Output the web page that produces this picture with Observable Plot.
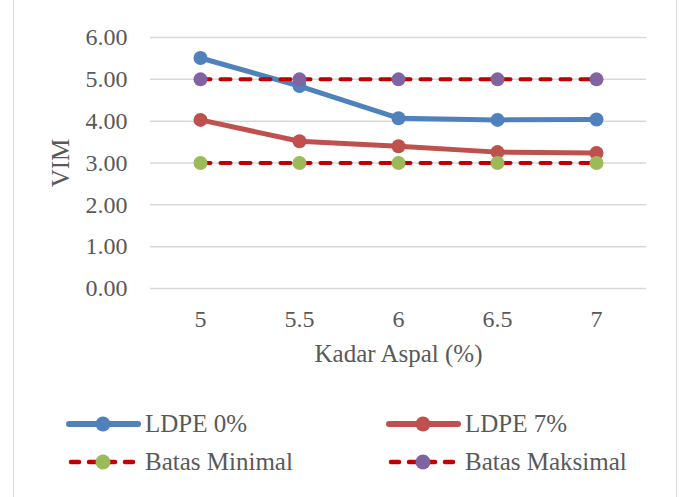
<!DOCTYPE html>
<html><head><meta charset="utf-8">
<script src="https://cdn.jsdelivr.net/npm/d3@7"></script>
<script src="https://cdn.jsdelivr.net/npm/@observablehq/plot@0.6"></script>
<style>
body{margin:0;background:#fff;}
#wrap{position:relative;width:680px;height:497px;overflow:hidden;font-family:"Liberation Serif",serif;color:#595959;background:#fff;}
#frame{position:absolute;left:13px;top:-2px;width:664px;height:520px;border:1px solid #d9d9d9;box-sizing:border-box;}
#chart{position:absolute;left:0;top:0;}
.leg{position:absolute;height:30px;display:flex;align-items:center;font-size:25px;line-height:30px;white-space:nowrap;}
.leg svg{display:block;margin-right:3px;}
</style></head><body>
<div id="wrap"><div id="frame"></div><div id="chart"></div><div id="legend"></div></div>
<script>
const categories = ["5", "5.5", "6", "6.5", "7"];
const yTicks = [0, 1, 2, 3, 4, 5, 6];
const ldpe0 = [5.51, 4.84, 4.07, 4.03, 4.04];
const ldpe7 = [4.03, 3.52, 3.40, 3.26, 3.24];
const batasMinimal = [3.00, 3.00, 3.00, 3.00, 3.00];
const batasMaksimal = [5.00, 5.00, 5.00, 5.00, 5.00];
const seriesNames = ["LDPE 0%", "LDPE 7%", "Batas Minimal", "Batas Maksimal"];

const styles = [
  {line: "#4F81BD", dot: "#4F81BD", dash: null, w: 5},
  {line: "#C0504D", dot: "#C0504D", dash: null, w: 5},
  {line: "#C00000", dot: "#9BBB59", dash: "10,10", w: 4},
  {line: "#C00000", dot: "#8064A2", dash: "10,10", w: 4}
];
const allValues = [ldpe0, ldpe7, batasMinimal, batasMaksimal];

const marks = [
  Plot.gridY(yTicks, {stroke: "#d9d9d9", strokeOpacity: 1, strokeWidth: 1.5}),
  Plot.axisY(yTicks, {tickSize: 0, tickPadding: 23, tickFormat: d => d.toFixed(2), label: null, fontSize: 24}),
  Plot.axisX({tickSize: 0, tickPadding: 21, label: null, fontSize: 24})
];
allValues.forEach((vals, si) => {
  const data = categories.map((c, i) => ({x: c, y: vals[i]}));
  const s = styles[si];
  marks.push(Plot.line(data, {x: "x", y: "y", stroke: s.line, strokeWidth: s.w,
    strokeDasharray: s.dash, strokeLinecap: "round", strokeLinejoin: "round"}));
  marks.push(Plot.dot(data, {x: "x", y: "y", r: 7, fill: s.dot, stroke: "none"}));
});
marks.push(Plot.text(["Kadar Aspal (%)"], {frameAnchor: "bottom", dy: 65, lineAnchor: "middle", textAnchor: "middle", fontSize: 25, fill: "#595959"}));
marks.push(Plot.text(["VIM"], {frameAnchor: "left", dx: -90, rotate: -90, lineAnchor: "middle", textAnchor: "middle", fontSize: 25, fill: "#595959"}));

const chart = Plot.plot({
  width: 680,
  height: 390,
  marginLeft: 150,
  marginRight: 34,
  marginTop: 37,
  marginBottom: 102,
  style: {fontFamily: "Liberation Serif", fontSize: "24px", color: "#595959", background: "transparent", overflow: "visible"},
  x: {type: "point", domain: categories, padding: 0.5},
  y: {domain: [0, 6]},
  marks
});
document.getElementById("chart").appendChild(chart);

// legend
const legPos = [
  {left: 66, top: 409}, {left: 386, top: 409},
  {left: 66, top: 447}, {left: 386, top: 447}
];
const legend = document.getElementById("legend");
seriesNames.forEach((name, i) => {
  const s = styles[i];
  const div = document.createElement("div");
  div.className = "leg";
  div.style.left = legPos[i].left + "px";
  div.style.top = legPos[i].top + "px";
  const dashAttr = s.dash ? `stroke-dasharray="8,10"` : "";
  const x1 = s.dash ? 5 : 3;
  div.innerHTML = `<svg width="76" height="30"><line x1="${x1}" y1="15" x2="72" y2="15" stroke="${s.line}" stroke-width="${s.dash ? 4.5 : 6}" stroke-linecap="round" ${dashAttr}/><circle cx="37" cy="15" r="7.5" fill="${s.dot}"/></svg><span>${name}</span>`;
  legend.appendChild(div);
});
</script>
</body></html>
